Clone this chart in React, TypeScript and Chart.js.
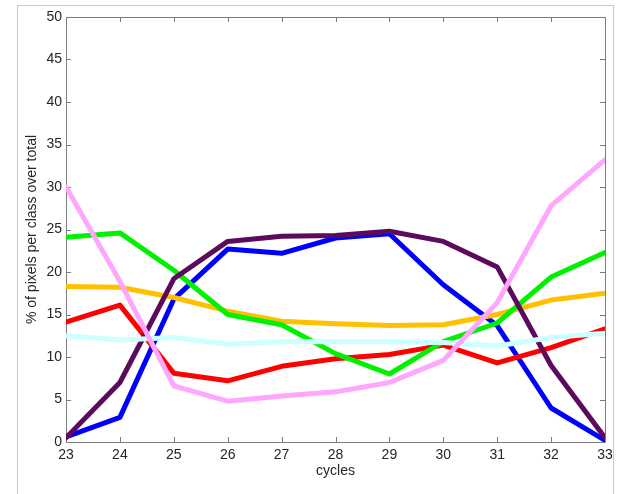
import React, { useEffect, useRef } from "react";
import { Chart, registerables } from "chart.js";

Chart.register(...registerables);

const cycles = [23, 24, 25, 26, 27, 28, 29, 30, 31, 32, 33];
const blueValues = [0.6, 2.9, 16.8, 22.7, 22.2, 24.0, 24.5, 18.5, 13.7, 4.0, 0.2];
const purpleValues = [0.5, 7.0, 19.2, 23.6, 24.2, 24.3, 24.8, 23.6, 20.6, 9.0, 0.5];
const greenValues = [24.1, 24.6, 20.2, 15.0, 13.8, 10.4, 8.0, 11.8, 14.0, 19.4, 22.3];
const orangeValues = [18.3, 18.2, 17.0, 15.4, 14.2, 13.9, 13.7, 13.8, 15.0, 16.7, 17.5];
const redValues = [14.1, 16.1, 8.1, 7.2, 8.9, 9.8, 10.3, 11.4, 9.3, 11.1, 13.3];
const pinkValues = [30.0, 18.9, 6.6, 4.8, 5.4, 5.9, 7.0, 9.6, 16.4, 27.8, 33.2];
const cyanValues = [12.5, 12.0, 12.3, 11.5, 11.8, 11.8, 11.8, 11.7, 11.3, 12.3, 12.8];

const yTicks = [0, 5, 10, 15, 20, 25, 30, 35, 40, 45, 50];
const xTitle = "cycles";
const yTitle = "% of pixels per class over total";

const FONT = "'Liberation Sans', Arial, Helvetica, sans-serif";

const pts = (vals: number[]) => cycles.map((c, i) => ({ x: c, y: vals[i] }));

const boxPlugin = {
  id: "matlabBox",
  beforeDatasetsDraw(chart: any) {
    const { ctx, chartArea, scales } = chart;
    const { left, right, top, bottom } = chartArea;
    const xs = scales.x;
    const ys = scales.y;
    ctx.save();
    ctx.strokeStyle = "#7c7c7c";
    ctx.lineWidth = 1;
    ctx.beginPath();
    ctx.rect(Math.round(left) + 0.5, Math.round(top) + 0.5, Math.round(right - left), Math.round(bottom - top));
    ctx.stroke();
    const L = 5;
    ctx.beginPath();
    xs.ticks.forEach((t: any) => {
      const px = Math.round(xs.getPixelForValue(t.value)) + 0.5;
      ctx.moveTo(px, bottom);
      ctx.lineTo(px, bottom - L);
      ctx.moveTo(px, top);
      ctx.lineTo(px, top + L);
    });
    ys.ticks.forEach((t: any) => {
      const py = Math.round(ys.getPixelForValue(t.value)) + 0.5;
      ctx.moveTo(left, py);
      ctx.lineTo(left + L, py);
      ctx.moveTo(right, py);
      ctx.lineTo(right - L, py);
    });
    ctx.stroke();
    ctx.restore();
  },
};

export default function App() {
  const ref = useRef<HTMLCanvasElement>(null);

  useEffect(() => {
    if (!ref.current) return;
    const mk = (label: string, vals: number[], color: string) => ({
      label,
      data: pts(vals),
      borderColor: color,
      backgroundColor: color,
      borderWidth: 5,
      pointRadius: 0,
      tension: 0,
      fill: false,
      borderJoinStyle: "round" as const,
      borderCapStyle: "round" as const,
    });
    const chart = new Chart(ref.current, {
      type: "line",
      data: {
        datasets: [
          mk("pink", pinkValues, "#ffa6ff"),
          mk("cyan", cyanValues, "#ccffff"),
          mk("purple", purpleValues, "#5c0a5c"),
          mk("green", greenValues, "#00f000"),
          mk("red", redValues, "#ff0000"),
          mk("orange", orangeValues, "#ffc000"),
          mk("blue", blueValues, "#0000ff"),
        ],
      },
      options: {
        animation: false,
        responsive: false,
        devicePixelRatio: 1,
        layout: { padding: { left: 0, right: 14, top: 17, bottom: 0 } },
        plugins: { legend: { display: false }, tooltip: { enabled: false } },
        scales: {
          x: {
            type: "linear",
            min: 23,
            max: 33,
            afterFit: (s: any) => {
              s.height = 52;
            },
            afterBuildTicks: (s: any) => {
              s.ticks = cycles.map((v) => ({ value: v }));
            },
            grid: { display: false, drawTicks: false },
            border: { display: false },
            ticks: {
              padding: 5,
              color: "#262626",
              font: { family: FONT, size: 14 },
              maxRotation: 0,
              autoSkip: false,
            },
            title: {
              display: true,
              text: xTitle,
              color: "#262626",
              font: { family: FONT, size: 14 },
              padding: { top: 14, bottom: 14 },
            },
          },
          y: {
            type: "linear",
            min: 0,
            max: 50,
            afterFit: (s: any) => {
              s.width = 66;
            },
            afterBuildTicks: (s: any) => {
              s.ticks = yTicks.map((v) => ({ value: v }));
            },
            grid: { display: false, drawTicks: false },
            border: { display: false },
            ticks: {
              padding: 4,
              color: "#262626",
              font: { family: FONT, size: 14 },
              autoSkip: false,
            },
            title: {
              display: true,
              text: yTitle,
              color: "#262626",
              font: { family: FONT, size: 14 },
              padding: { top: 24, bottom: 0 },
            },
          },
        },
      },
      plugins: [boxPlugin],
    });
    return () => chart.destroy();
  }, []);

  return (
    <div style={{ position: "fixed", left: 0, top: 0, width: 619, height: 494, background: "#ffffff", overflow: "hidden" }}>
      <div
        style={{
          position: "absolute",
          left: 17,
          top: 5,
          width: 597,
          height: 520,
          border: "1px solid #c8c8c8",
          boxSizing: "border-box",
        }}
      />
      <canvas ref={ref} width={619} height={494} style={{ position: "absolute", left: 0, top: 0, width: 619, height: 494 }} />
    </div>
  );
}
